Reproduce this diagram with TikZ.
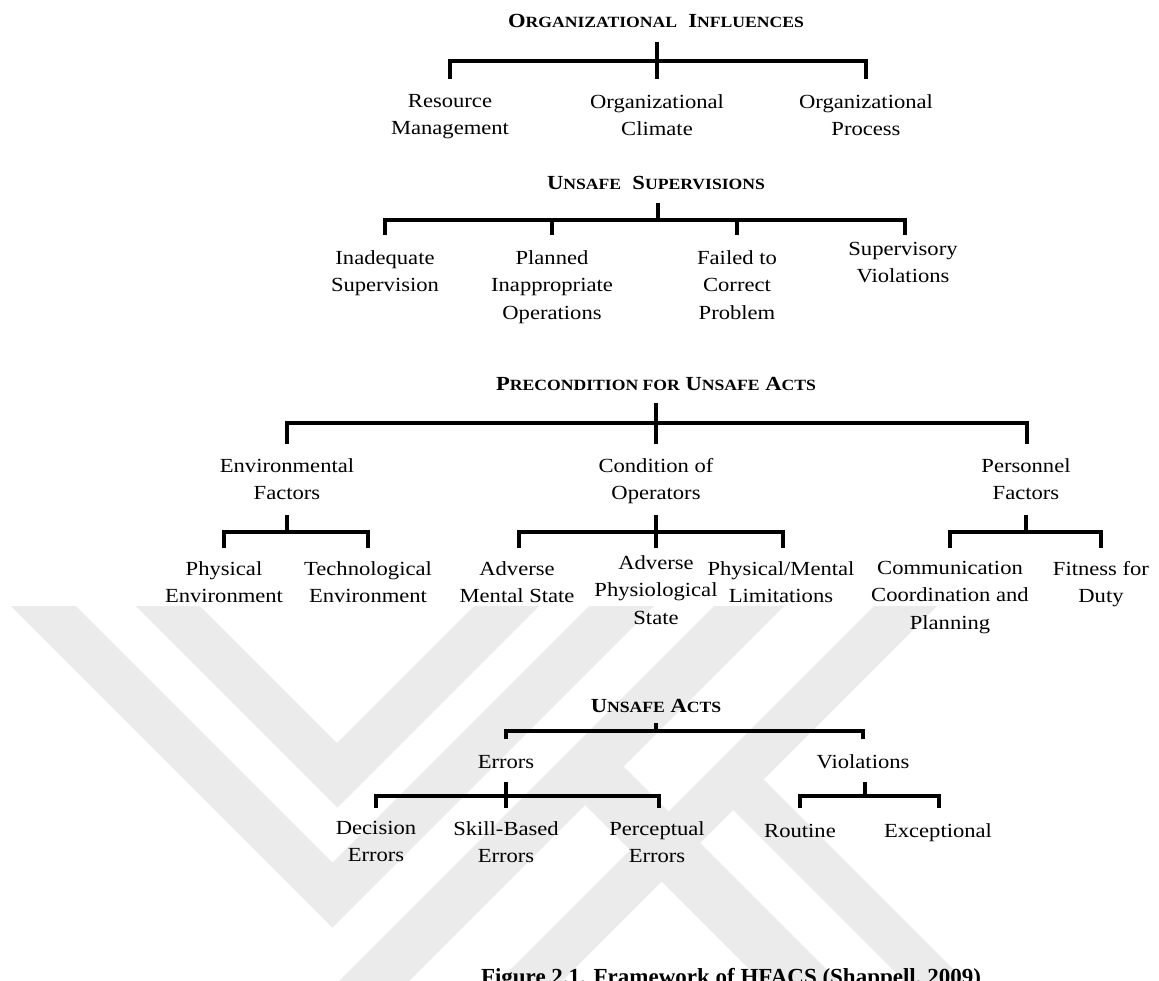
\documentclass[tikz,border=0pt]{standalone}
\usepackage{fontspec}
\setmainfont{Liberation Serif}[FakeStretch=1.13]
\newfontfamily\capfont{Liberation Serif}
\newcommand\fsc[2]{#1{\fontsize{15.6}{18}\selectfont #2}}
\begin{document}
\begin{tikzpicture}[x=1pt,y=-1pt,
  conn/.style={line width=3.2pt},
  wm/.style={fill=black!8, draw=none},
  ttl/.style={anchor=base, inner sep=0pt, font=\fontsize{20}{24}\selectfont\bfseries},
  lbl/.style={anchor=north, inner sep=0pt, align=center,
    font=\fontsize{20}{27.5}\selectfont, execute at begin node={\rule{0pt}{16pt}}}]
\useasboundingbox[fill=white] (0,0) rectangle (1159,981);
\begin{scope}
\clip (0,0) rectangle (1159,981);
% ---------- watermark
\fill[wm] (11,606) -- (76,606) -- (332.5,862.5) -- (589,606) -- (654,606) -- (332.5,927.5) -- cycle;
\fill[wm] (136,606) -- (200,606) -- (337,743) -- (474,606) -- (539,606) -- (337.5,807.5) -- cycle;
\fill[wm] (714,606) -- (784,606) -- (409,981) -- (339,981) -- cycle;
\fill[wm] (874,606) -- (937,606) -- (562,981) -- (499,981) -- cycle;
\fill[wm] (550,770) -- (623.5,766.5) -- (838,981) -- (761,981) -- cycle;
\fill[wm] (701.5,778.5) -- (763.5,779.5) -- (965,981) -- (904,981) -- cycle;
% ---------- Level 1
\node[ttl] (t1) at (656,28) {\fsc{O}{RGANIZATIONAL}\ \ \fsc{I}{NFLUENCES}};
\node[lbl] (rm) at (450,94) {Resource\\Management};
\node[lbl] (oc) at (657,94) {Organizational\\Climate};
\node[lbl] (op) at (866,94) {Organizational\\Process};
\coordinate (s1) at (657,42);
\coordinate (b1) at (657,61);
\draw[conn] (s1) -- (657,79);
\draw[conn] (450,79) |- (b1) -| (866,79);
% ---------- Level 2
\node[ttl] (t2) at (656,190) {\fsc{U}{NSAFE}\ \ \fsc{S}{UPERVISIONS}};
\node[lbl] (is) at (385,250) {Inadequate\\Supervision};
\node[lbl] (pi) at (552,250) {Planned\\Inappropriate\\Operations};
\node[lbl] (fc) at (737,250) {Failed to\\Correct\\Problem};
\node[lbl] (sv) at (903,242) {Supervisory\\Violations};
\coordinate (b2) at (658,220);
\draw[conn] (658,203) -- (b2);
\draw[conn] (385,235) |- (b2) -| (905,235);
\draw[conn] (552,220) -- (552,235);
\draw[conn] (737,220) -- (737,235);
% ---------- Level 3
\node[ttl] (t3) at (656,390) {\fsc{P}{RECONDITION FOR} \fsc{U}{NSAFE} \fsc{A}{CTS}};
\node[lbl] (ef) at (287,458) {Environmental\\Factors};
\node[lbl] (co) at (656,458) {Condition of\\Operators};
\node[lbl] (pf) at (1026,458) {Personnel\\Factors};
\coordinate (b3) at (656,423);
\draw[conn] (656,403) -- (656,444);
\draw[conn] (287,444) |- (b3) -| (1027,444);
% env
\node[lbl] (pe) at (224,561) {Physical\\Environment};
\node[lbl] (te) at (368,561) {Technological\\Environment};
\draw[conn] (287,515) -- (287,532);
\draw[conn] (224,548) |- (287,532) -| (368,548);
% condition
\node[lbl] (am) at (517,561) {Adverse\\Mental State};
\node[lbl] (ap) at (656,555) {Adverse\\Physiological\\State};
\node[lbl] (pm) at (781,561) {Physical/Mental\\Limitations};
\draw[conn] (656,515) -- (656,548);
\draw[conn] (519,548) |- (656,532) -| (783,548);
% personnel
\node[lbl] (cc) at (950,561) {Communication\\Coordination and\\Planning};
\node[lbl] (fd) at (1101,561) {Fitness for\\Duty};
\draw[conn] (1026,515) -- (1026,532);
\draw[conn] (950,548) |- (1026,532) -| (1101,548);
% ---------- Level 4
\node[ttl] (t4) at (656,712) {\fsc{U}{NSAFE} \fsc{A}{CTS}};
\node[lbl] (er) at (506,752) {Errors};
\node[lbl] (vi) at (863,752) {Violations};
\draw[conn] (656,723) -- (656,731);
\draw[conn] (506,739) |- (656,731) -| (863,739);
\node[lbl] (de) at (376,821) {Decision\\Errors};
\node[lbl] (sb) at (506,821) {Skill-Based\\Errors};
\node[lbl] (pc) at (657,821) {Perceptual\\Errors};
\draw[conn] (506,782) -- (506,808);
\draw[conn] (376,808) |- (506,796) -| (659,808);
\node[lbl] (ro) at (800,821) {Routine};
\node[lbl] (ex) at (938,821) {Exceptional};
\draw[conn] (865,782) -- (865,796);
\draw[conn] (800,808) |- (865,796) -| (939,808);
% ---------- Caption
\node[anchor=base, inner sep=0pt, font=\capfont\fontsize{23}{27}\selectfont\bfseries] (cap) at (731,984)
  {Figure 2.1. Framework of HFACS (Shappell, 2009)};
\end{scope}
\end{tikzpicture}
\end{document}
